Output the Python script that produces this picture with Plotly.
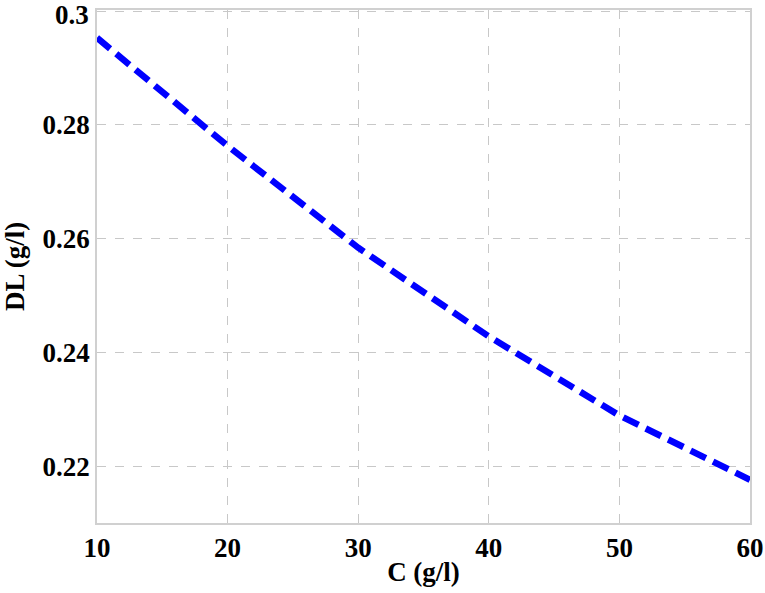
import plotly.graph_objects as go

c_values = [10, 20, 30, 40, 50, 60]
dl_values = [0.2953, 0.2763, 0.2584, 0.2428, 0.2289, 0.2176]
x_ticks = [10, 20, 30, 40, 50, 60]
y_ticks = [0.22, 0.24, 0.26, 0.28, 0.3]
y_tick_text = ["0.22", "0.24", "0.26", "0.28", ""]
top_label = "0.3"

font_family = "Liberation Serif"

fig = go.Figure()
fig.add_trace(go.Scatter(
    x=c_values, y=dl_values, mode="lines",
    line=dict(color="#0000ff", width=6.5, dash="17px,8px"),
    showlegend=False,
    cliponaxis=False,
    hoverinfo="skip",
))

fig.update_layout(
    width=765, height=593,
    margin=dict(l=97, r=15, t=10, b=70),
    paper_bgcolor="white", plot_bgcolor="white",
    font=dict(family=font_family, color="black"),
)
fig.add_annotation(
    text="<b>" + top_label + "</b>", xref="paper", yref="y",
    x=0, y=y_ticks[-1], xanchor="right", yanchor="middle",
    xshift=-6, yshift=-4, showarrow=False,
    font=dict(family=font_family, size=27, color="black"),
)
fig.update_xaxes(
    range=[10, 60], tickvals=x_ticks,
    tickfont=dict(family=font_family, size=27, color="black", weight="bold"),
    title=dict(text="<b>C (g/l)</b>", font=dict(family=font_family, size=27), standoff=0),
    showline=True, linecolor="#d0d0d0", linewidth=1.5, mirror=True,
    showgrid=True, gridcolor="#c8c8c8", griddash="dash", gridwidth=1,
    zeroline=False, ticks="", ticklen=0,
    automargin=False, ticklabeloverflow="allow",
)
fig.update_yaxes(
    range=[0.21, 0.3002], tickvals=y_ticks, ticktext=y_tick_text,
    tickfont=dict(family=font_family, size=27, color="black", weight="bold"),
    title=dict(text="<b>DL (g/l)</b>", font=dict(family=font_family, size=27), standoff=14),
    showline=True, linecolor="#d0d0d0", linewidth=1.5, mirror=True,
    showgrid=True, gridcolor="#c8c8c8", griddash="dash", gridwidth=1,
    zeroline=False, ticks="", ticklen=0,
    automargin=False, ticklabeloverflow="allow",
)

fig.write_html("out.html", config={"displayModeBar": False},
               post_script="document.body.style.margin='0';")
